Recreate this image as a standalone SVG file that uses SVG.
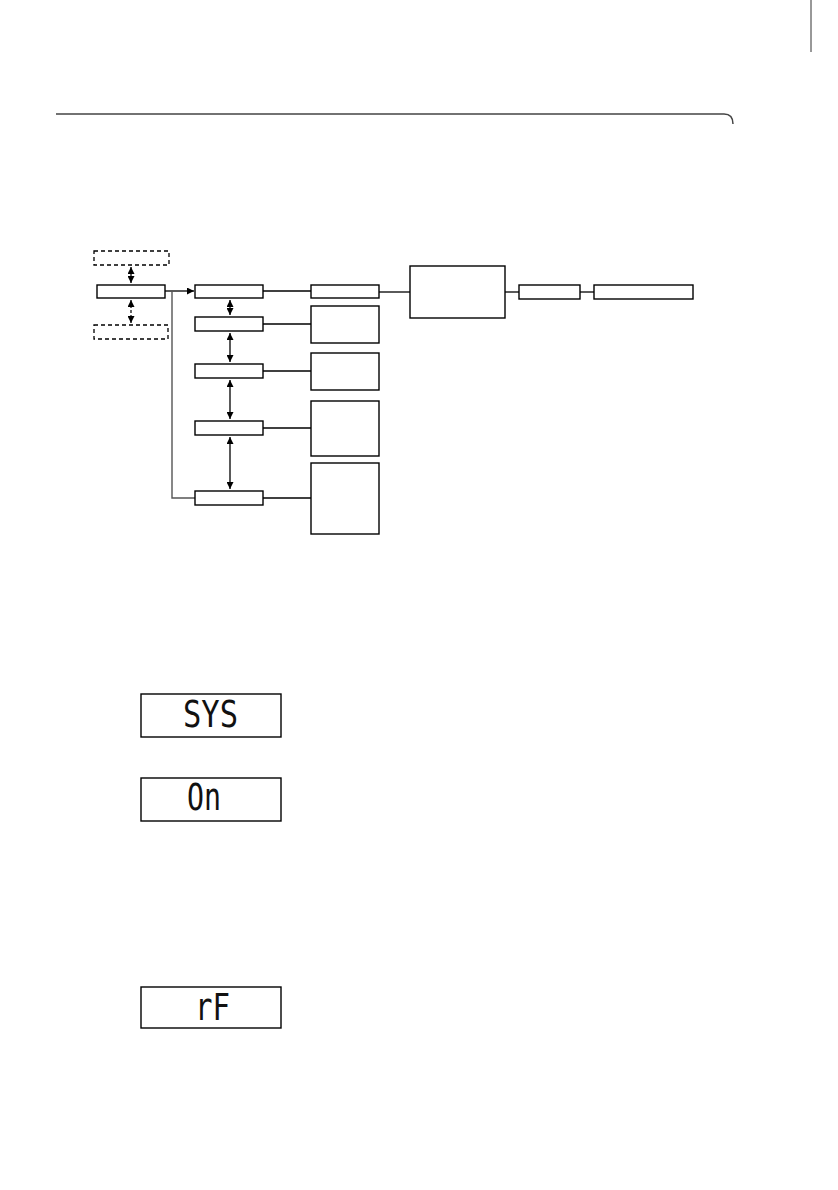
<svg xmlns="http://www.w3.org/2000/svg" width="838" height="1190" viewBox="0 0 838 1190">
<style>
.b{fill:#fff;stroke:#000;stroke-width:1.4}
.d{fill:#fff;stroke:#000;stroke-width:1.3;stroke-dasharray:4 3}
.l{fill:none;stroke:#000;stroke-width:1.3}
.g{fill:none;stroke:#555;stroke-width:1.4}
.dl{fill:none;stroke:#000;stroke-width:1.2;stroke-dasharray:3 2}
.disp{fill:#fff;stroke:#000;stroke-width:1.4}
.seg{font-family:"DejaVu Sans Mono","Liberation Mono",monospace;font-size:38px;fill:#111}
</style>
<defs>
<marker id="ah" viewBox="0 0 10 10" refX="10" refY="5" markerWidth="7" markerHeight="7" markerUnits="userSpaceOnUse" orient="auto-start-reverse">
<path d="M0,0 L10,5 L0,10 z" fill="#000"/>
</marker>
</defs>
<rect width="838" height="1190" fill="#fff"/>
<g id="header">
<path d="M56,114 H724 Q733,114 733,124" fill="none" stroke="#444" stroke-width="1.5"/>
<line x1="811" y1="0" x2="811" y2="52" stroke="#333" stroke-width="1"/>
</g>
<g id="connectors">
<line class="l" x1="131" y1="267" x2="131" y2="283" marker-start="url(#ah)" marker-end="url(#ah)"/>
<line class="dl" x1="131" y1="300" x2="131" y2="323" marker-start="url(#ah)" marker-end="url(#ah)"/>
<polyline class="l" points="165,291 172,291 194,291" marker-end="url(#ah)"/>
<polyline class="g" points="172,291 172,498 195,498"/>
<line class="l" x1="230" y1="300" x2="230" y2="315" marker-start="url(#ah)" marker-end="url(#ah)"/>
<line class="l" x1="230" y1="333" x2="230" y2="362" marker-start="url(#ah)" marker-end="url(#ah)"/>
<line class="l" x1="230" y1="380" x2="230" y2="419" marker-start="url(#ah)" marker-end="url(#ah)"/>
<line class="l" x1="230" y1="437" x2="230" y2="489" marker-start="url(#ah)" marker-end="url(#ah)"/>
<line class="l" x1="263" y1="291" x2="311" y2="291"/>
<line class="l" x1="263" y1="324" x2="311" y2="324"/>
<line class="l" x1="263" y1="371" x2="311" y2="371"/>
<line class="l" x1="263" y1="428" x2="311" y2="428"/>
<line class="l" x1="263" y1="498" x2="311" y2="498"/>
<line class="l" x1="379" y1="292" x2="410" y2="292"/>
<line class="l" x1="505" y1="292" x2="519" y2="292"/>
<line class="l" x1="580" y1="292" x2="594" y2="292"/>
</g>
<g id="node-dash-top"><rect class="d" x="94" y="251" width="75" height="14"/></g>
<g id="node-main"><rect class="b" x="97" y="285" width="68" height="13"/></g>
<g id="node-dash-bottom"><rect class="d" x="94" y="325" width="74" height="14"/></g>
<g id="node-c1"><rect class="b" x="195" y="285" width="68" height="13"/></g>
<g id="node-c2"><rect class="b" x="195" y="317" width="68" height="14"/></g>
<g id="node-c3"><rect class="b" x="195" y="364" width="68" height="14"/></g>
<g id="node-c4"><rect class="b" x="195" y="421" width="68" height="14"/></g>
<g id="node-c5"><rect class="b" x="195" y="491" width="68" height="14"/></g>
<g id="node-r1"><rect class="b" x="311" y="285" width="68" height="13"/></g>
<g id="node-r2"><rect class="b" x="311" y="306" width="68" height="37"/></g>
<g id="node-r3"><rect class="b" x="311" y="353" width="68" height="37"/></g>
<g id="node-r4"><rect class="b" x="311" y="401" width="68" height="55"/></g>
<g id="node-r5"><rect class="b" x="311" y="463" width="68" height="71"/></g>
<g id="node-big"><rect class="b" x="410" y="266" width="95" height="52"/></g>
<g id="node-t1"><rect class="b" x="519" y="285" width="61" height="14"/></g>
<g id="node-t2"><rect class="b" x="594" y="285" width="99" height="14"/></g>
<g id="display-sys">
<rect class="disp" x="141" y="694" width="140" height="43"/>
<text class="seg" x="183" y="727" textLength="55" lengthAdjust="spacingAndGlyphs">SYS</text>
</g>
<g id="display-on">
<rect class="disp" x="141" y="778" width="140" height="43"/>
<text class="seg" x="187" y="810" textLength="34" lengthAdjust="spacingAndGlyphs">On</text>
</g>
<g id="display-rf">
<rect class="disp" x="141" y="987" width="140" height="41"/>
<text class="seg" x="195" y="1020" textLength="35" lengthAdjust="spacingAndGlyphs">rF</text>
</g>
</svg>
